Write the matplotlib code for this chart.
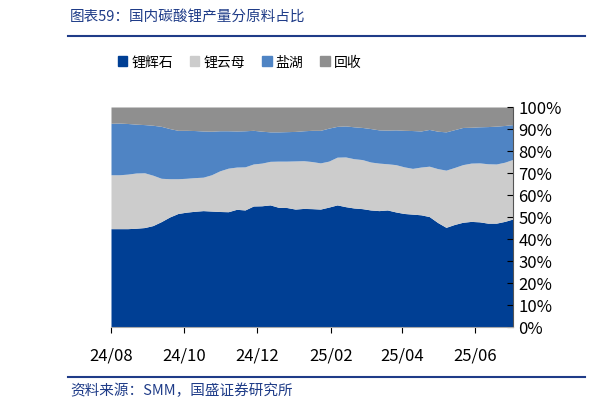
import numpy as np
import matplotlib.pyplot as plt
import matplotlib.dates as mdates
from matplotlib.patches import Patch

plt.rcParams['font.family'] = ['Noto Sans CJK SC', 'DejaVu Sans']

# weekly dates from 2024-08-01
dates = np.arange(np.datetime64('2024-08-01'), np.datetime64('2025-07-04'), np.timedelta64(7, 'D'))

# cumulative shares (%)
spod_top = [44.7, 44.7, 44.7, 44.9, 45.2, 46.1, 47.9, 50.0, 51.6, 52.2, 52.6, 52.9, 52.7, 52.5, 52.4,
            53.5, 53.2, 55.0, 55.1, 55.5, 54.4, 54.3, 53.6, 53.9, 53.8, 53.6, 54.5, 55.5, 54.7, 54.1,
            53.8, 53.2, 52.9, 53.2, 52.3, 51.6, 51.3, 51.0, 50.2, 47.5, 45.3, 46.6, 47.6, 48.0, 47.8,
            47.2, 47.2, 48.0, 49.1]
lepi_top = [69.2, 69.2, 69.5, 70.0, 70.1, 69.0, 67.6, 67.4, 67.4, 67.6, 67.9, 68.1, 69.2, 71.0, 72.2,
            72.7, 72.8, 74.1, 74.5, 75.3, 75.4, 75.4, 75.5, 75.6, 75.2, 74.6, 75.4, 77.2, 77.3, 76.5,
            76.1, 75.0, 74.5, 74.2, 73.8, 72.8, 72.1, 72.7, 73.1, 72.0, 71.3, 72.5, 73.8, 74.5, 74.6,
            74.2, 74.1, 74.9, 76.2]
brine_top = [92.6, 92.7, 92.5, 92.2, 92.0, 91.7, 91.2, 90.2, 89.4, 89.4, 89.3, 89.1, 89.0, 89.2, 89.2,
             89.1, 89.2, 89.4, 89.0, 88.7, 88.7, 88.8, 88.9, 89.2, 89.4, 89.4, 90.4, 91.2, 91.4, 91.0,
             90.7, 90.2, 89.6, 89.5, 89.6, 89.4, 89.3, 89.1, 89.8, 89.0, 88.7, 89.7, 90.7, 90.8, 91.0,
             91.1, 91.3, 91.6, 92.0]
labels = ['锂辉石', '锂云母', '盐湖', '回收']
colors = ['#003F94', '#CCCCCC', '#4F84C4', '#8F8F8F']

fig = plt.figure(figsize=(6.12, 4.10), dpi=100)
ax = fig.add_axes([111/612, 1-328/410, 402/612, 220/410])

bounds = [np.zeros(len(dates)), np.array(spod_top), np.array(lepi_top), np.array(brine_top),
          np.full(len(dates), 100.0)]
for i in range(4):
    ax.fill_between(dates, bounds[i], bounds[i+1], color=colors[i], lw=0)

ax.set_xlim(dates[0], dates[-1])
ax.set_ylim(0, 100)
ax.yaxis.tick_right()
ax.set_yticks(range(0, 101, 10))
ax.set_yticklabels([f'{v}%' for v in range(0, 101, 10)], fontsize=12)
ax.set_xticks([np.datetime64(d) for d in ['2024-08-01', '2024-10-01', '2024-12-01',
                                          '2025-02-01', '2025-04-01', '2025-06-01']])
ax.xaxis.set_major_formatter(mdates.DateFormatter('%y/%m'))
ax.tick_params(axis='x', labelsize=12, length=4, direction='out', pad=10)
ax.tick_params(axis='y', length=4, direction='in', pad=4)
for s in ['top', 'left']:
    ax.spines[s].set_visible(False)
ax.spines['bottom'].set_color('#AAAAAA')
ax.spines['right'].set_color('#555555')

handles = [Patch(color=c) for c in colors]
fig.legend(handles, labels, loc='center left', bbox_to_anchor=(105/612, 1-63/410), ncol=4,
           frameon=False, fontsize=10, handlelength=0.7, handleheight=0.7, columnspacing=1.2,
           handletextpad=0.3)

fig.text(70/612, 1-17/410, '图表59：国内碳酸锂产量分原料占比', fontsize=10.5, style='italic',
         color='#1F3C88', va='center')
fig.add_artist(plt.Line2D([68/612, 585/612], [1-37/410, 1-37/410], color='#1F3C88', lw=1.5))
fig.add_artist(plt.Line2D([68/612, 585/612], [1-378/410, 1-378/410], color='#1F3C88', lw=1.5))
fig.text(70/612, 1-391/410, '资料来源：SMM，国盛证券研究所', fontsize=10.5, style='italic',
         color='#1F3C88', va='center')

fig.savefig('out.png', dpi=100)
